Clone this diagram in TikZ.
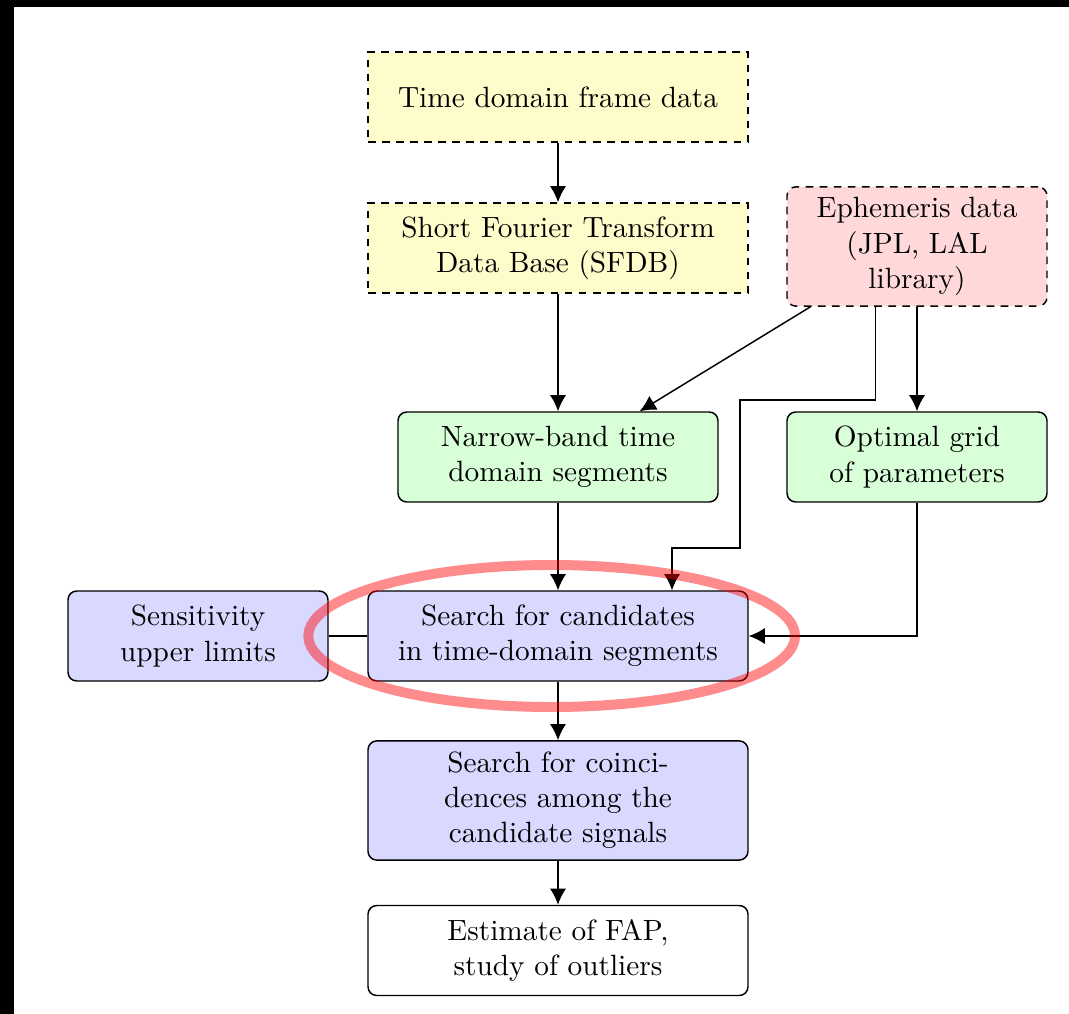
\documentclass[tikz,border=0pt]{standalone}
\usetikzlibrary{arrows.meta}

\begin{document}
\begin{tikzpicture}[
		>={Latex[length=5.5pt,width=5.5pt]},
		line width=0.5pt,
		blk/.style={draw, rounded corners=3pt, align=center, minimum height=1.08cm},
		datablk/.style={blk, dash pattern=on 2.6pt off 2.2pt},
		wide/.style={minimum width=4.56cm},
		narrow/.style={minimum width=3.12cm}
	]
		% screen frame
		\fill[black] (0,0) rectangle (12.828,-12.168);
		\fill[white] (0.168,-0.084) rectangle (12.828,-12.168);
		\useasboundingbox (0,0) rectangle (12.828,-12.168);

		\node[datablk, wide, fill=yellow!20, rounded corners=0pt] (frame) at (6.696,-1.164) {Time domain frame data};
		\node[datablk, wide, fill=yellow!20, rounded corners=0pt] (sfdb) at (6.696,-2.976) {Short Fourier Transform\\Data Base (SFDB)};
		\node[datablk, narrow, fill=red!15, minimum height=1.43cm] (ephem) at (11.004,-2.958) {Ephemeris data\\(JPL, LAL\\library)};

		\node[blk, minimum width=3.84cm, fill=green!15] (nbseg) at (6.696,-5.484) {Narrow-band time\\domain segments};
		\node[blk, narrow, fill=green!15] (grid) at (11.004,-5.484) {Optimal grid\\of parameters};

		\node[blk, wide, fill=blue!15] (search) at (6.696,-7.632) {Search for candidates\\in time-domain segments};
		\node[blk, narrow, fill=blue!15] (sens) at (2.376,-7.632) {Sensitivity\\upper limits};

		\node[blk, wide, fill=blue!15, minimum height=1.43cm] (coinc) at (6.696,-9.606) {Search for coinci-\\dences among the\\candidate signals};
		\node[blk, wide] (fap) at (6.696,-11.406) {Estimate of FAP,\\study of outliers};

		\coordinate (b1) at (8.88,-4.8);
		\coordinate (b2) at (8.064,-6.576);

		\draw[->] (frame) -- (sfdb);
		\draw[->] (sfdb) -- (nbseg);
		\draw[->] ([xshift=0.29cm]ephem.south west) -- ([xshift=0.98cm]nbseg.north);
		\draw[->] ([xshift=-0.5cm]ephem.south) |- (b1) |- (b2) -- (b2 |- search.north);
		\draw[->] (ephem) -- (grid);
		\draw[->] (nbseg) -- (search);
		\draw[->] (grid.south) |- (search.east);
		\draw (search.west) -- (sens.east);
		\draw[->] (search) -- (coinc);
		\draw[->] (coinc) -- (fap);

		% highlight
		\draw[red, opacity=0.45, line width=3.4pt] (6.62,-7.632) ellipse [x radius=2.92cm, y radius=0.852cm];
	\end{tikzpicture}
\end{document}
